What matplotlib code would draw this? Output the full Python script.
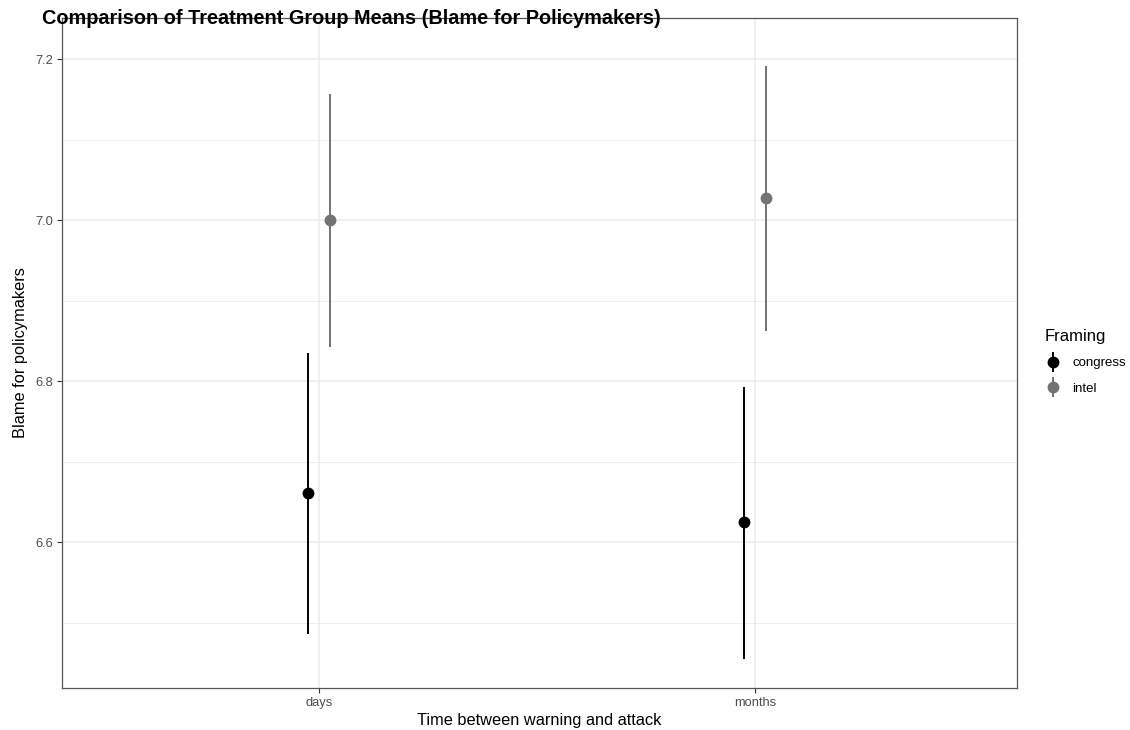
import matplotlib.pyplot as plt
from matplotlib.lines import Line2D
from matplotlib.legend_handler import HandlerTuple
from matplotlib.ticker import MultipleLocator

plt.rcParams['font.family'] = ['Liberation Sans', 'DejaVu Sans']

timing = ["days", "months"]
framing = ["congress", "intel"]
colors = ["#000000", "#737373"]

# group means and confidence bounds, per framing, for days / months
means = {"congress": [6.661, 6.625], "intel": [7.000, 7.027]}
lower = {"congress": [6.486, 6.455], "intel": [6.842, 6.862]}
upper = {"congress": [6.835, 6.793], "intel": [7.157, 7.191]}

dodge = [-0.025, 0.025]

fig = plt.figure(figsize=(11.3, 7.3), dpi=100)
ax = fig.add_axes([62 / 1130, 1 - 688 / 730, 955 / 1130, 670 / 730])

handles = []
for i, grp in enumerate(framing):
    xs = [k + 1 + dodge[i] for k in range(len(timing))]
    yerr = [[m - lo for m, lo in zip(means[grp], lower[grp])],
            [hi - m for m, hi in zip(means[grp], upper[grp])]]
    ax.errorbar(xs, means[grp], yerr=yerr, fmt='o', color=colors[i],
                ecolor=colors[i], elinewidth=1.4, capsize=0,
                markersize=7.5, zorder=3)
    bar = Line2D([], [], linestyle='none', marker='|', markersize=15,
                 markeredgewidth=1.4, color=colors[i])
    dot = Line2D([], [], linestyle='none', marker='o', markersize=7.5,
                 color=colors[i])
    handles.append((bar, dot))

ax.set_xlim(0.412, 2.6)
ax.set_ylim(6.419, 7.251)
ax.set_xticks([1, 2])
ax.set_xticklabels(timing)
ax.yaxis.set_major_locator(MultipleLocator(0.2))
ax.yaxis.set_minor_locator(MultipleLocator(0.1))
ax.yaxis.set_major_formatter(plt.FormatStrFormatter('%.1f'))

ax.grid(which='major', color='#ebebeb', linewidth=1.1, zorder=0)
ax.grid(which='minor', axis='y', color='#ebebeb', linewidth=0.6, zorder=0)
ax.set_axisbelow(True)
ax.tick_params(which='major', length=3.5, width=0.8, color='#333333',
               labelsize=9.3, labelcolor='#4d4d4d', pad=3)
ax.tick_params(which='minor', length=0)
for s in ax.spines.values():
    s.set_color('#555555')
    s.set_linewidth(0.9)

ax.set_xlabel("Time between warning and attack", fontsize=11.8, labelpad=3)
ax.set_ylabel("Blame for policymakers", fontsize=11.8, labelpad=5)
fig.text(42 / 1130, 1 - 24 / 730, "Comparison of Treatment Group Means (Blame for Policymakers)",
         fontsize=14.3, fontweight='bold', ha='left', va='baseline')

leg = fig.legend(handles, framing, handler_map={tuple: HandlerTuple(ndivide=1)},
                 loc='upper left', bbox_to_anchor=(1033 / 1130, 1 - 317 / 730),
                 frameon=False, title="Framing", fontsize=9.5,
                 title_fontsize=12, handlelength=1.2, handletextpad=0.9,
                 labelspacing=1.0)
leg._legend_box.align = "left"

fig.savefig("out.png", dpi=100)
